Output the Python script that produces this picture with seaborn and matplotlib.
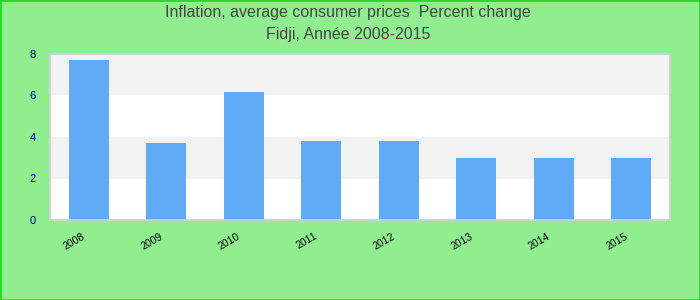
import matplotlib
matplotlib.use("Agg")
import matplotlib.pyplot as plt
import matplotlib.transforms as mtransforms
import seaborn as sns
import pandas as pd

years = ["2008", "2009", "2010", "2011", "2012", "2013", "2014", "2015"]
values = [7.71, 3.71, 6.17, 3.81, 3.81, 2.99, 2.99, 2.99]
title_line1 = "Inflation, average consumer prices  Percent change"
title_line2 = "Fidji, Année 2008-2015"
yticks = [0, 2, 4, 6, 8]

sns.set_style("white")
plt.rcParams["font.family"] = ["Liberation Sans", "DejaVu Sans"]

df = pd.DataFrame({"year": years, "value": values})

fig = plt.figure(figsize=(7, 3), dpi=100, facecolor="#90ee90")
ax = fig.add_axes([50 / 700, 80 / 300, 620 / 700, 166 / 300])
ax.set_facecolor("white")

for lo in (2, 6):
    ax.axhspan(lo, lo + 2, color="#f2f2f2", zorder=0, lw=0)

sns.barplot(data=df, x="year", y="value", color="#61aaf5", saturation=1,
            width=0.52, ax=ax, zorder=2, linewidth=0, edgecolor="none")

ax.set_ylim(0, 8)
ax.set_xlim(-0.5, len(years) - 0.5)
ax.set_yticks(yticks)
ax.set_yticklabels([str(t) for t in yticks], color="#00008b", fontsize=8)
ax.tick_params(axis="y", length=0, pad=10)
ax.tick_params(axis="x", length=0, pad=8)
offset = mtransforms.ScaledTranslation(-7 / 100, 0, fig.dpi_scale_trans)
for lbl in ax.get_xticklabels():
    lbl.set_rotation(30)
    lbl.set_ha("right")
    lbl.set_rotation_mode("anchor")
    lbl.set_fontsize(7.5)
    lbl.set_color("black")
    lbl.set_transform(lbl.get_transform() + offset)
ax.set_xlabel("")
ax.set_ylabel("")
for s in ax.spines.values():
    s.set_visible(True)
    s.set_color("#d0d0d0")
    s.set_linewidth(1.2)

fig.text(0.497, 1 - 13 / 300, title_line1, ha="center", va="center",
         fontsize=11.5, color="#444444")
fig.text(0.497, 1 - 35 / 300, title_line2, ha="center", va="center",
         fontsize=11.5, color="#444444")

border = plt.Rectangle((0, 0), 1, 1, transform=fig.transFigure, fill=False,
                       edgecolor="#22dd22", linewidth=2)
fig.patches.append(border)

fig.savefig("out.png", dpi=100, facecolor=fig.get_facecolor())
